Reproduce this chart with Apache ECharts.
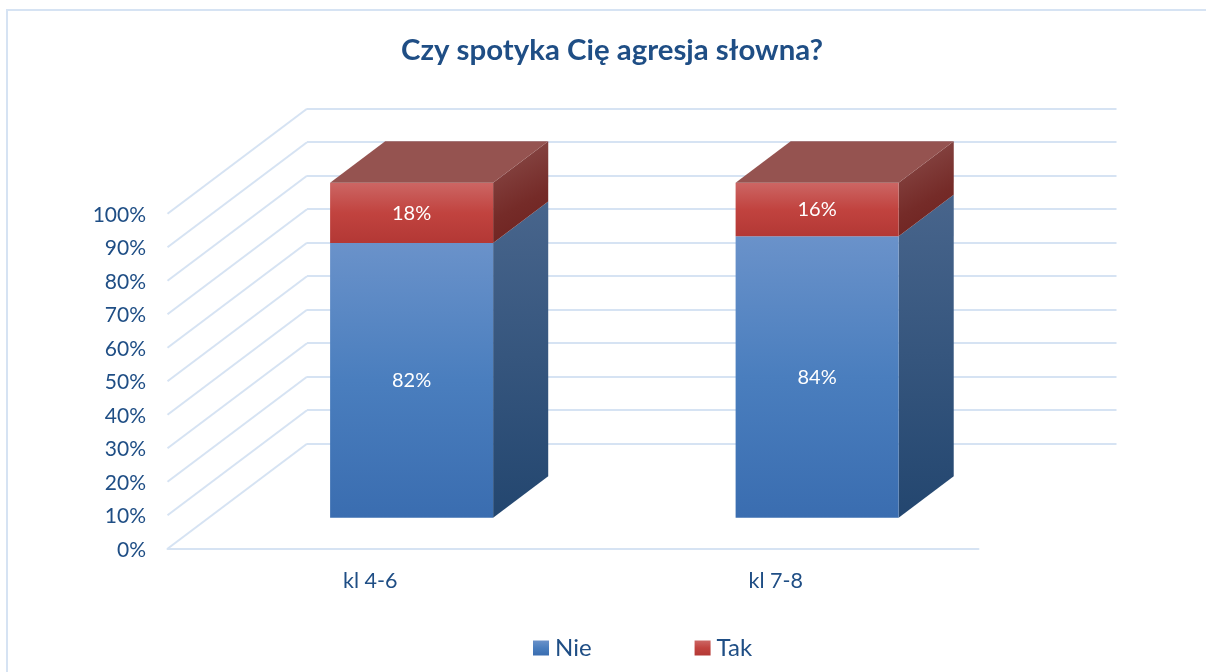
<!DOCTYPE html>
<html>
<head>
<meta charset="utf-8">
<script src="https://cdn.jsdelivr.net/npm/echarts@6/dist/echarts.min.js"></script>
<style>
  html, body { margin: 0; padding: 0; background: #fff; }
  #chart { width: 1206px; height: 672px; }
</style>
</head>
<body>
<div id="chart"></div>
<script>
const titleText = 'Czy spotyka Cię agresja słowna?'
const categories = ['kl 4-6', 'kl 7-8']
const nieValues = [82, 84]
const takValues = [18, 16]
const yTicks = [0, 10, 20, 30, 40, 50, 60, 70, 80, 90, 100]

const FONT = 'Lato'
const TEXT_COLOR = '#1f4e85'
const LINE_COLOR = '#d6e3f3'
// the "3d" look: how far the back wall sits from the front plane
const WALL_DX = 139.5
const WALL_DY = -105
// bar depth inside the wall, as a part of the wall depth
const BAR_NEAR = 0.295
const BAR_FAR = 0.69

const grad = (x2, y2, stops) => ({
  type: 'linear', x: 0, y: 0, x2: x2, y2: y2,
  colorStops: stops.map((s) => ({ offset: s[0], color: s[1] }))
})

const faces = {
  Nie: {
    front: grad(0, 1, [[0, '#6a92ca'], [0.5, '#4a7ebe'], [1, '#3a6db0']]),
    side: grad(0, 1, [[0, '#48658c'], [1, '#23466f']])
  },
  Tak: {
    front: grad(0, 1, [[0, '#cc6664'], [0.5, '#c1433f'], [1, '#b33835']]),
    side: grad(1, 1, [[0, '#8c4f4d'], [0.6, '#752b28'], [1, '#6c201e']]),
    top: '#955350'
  }
}

// draws one stacked block of a bar: front, side and (for the last one) the lid
function blockRenderer(name, showTop) {
  return function (params, api) {
    const cat = api.value(0)
    const from = api.coord([cat, api.value(1)])
    const to = api.coord([cat, api.value(2)])
    const band = api.size([1, 0])[0]
    const w = band * 0.402
    const ny = WALL_DY * BAR_NEAR
    const dx = WALL_DX * (BAR_FAR - BAR_NEAR)
    const dy = WALL_DY * (BAR_FAR - BAR_NEAR)
    const x0 = from[0] + band * 0.102 - w / 2
    const x1 = x0 + w
    const yb = from[1] + ny
    const yt = to[1] + ny
    const children = [
      {
        type: 'polygon',
        shape: { points: [[x1, yb], [x1 + dx, yb + dy], [x1 + dx, yt + dy], [x1, yt]] },
        style: { fill: faces[name].side }
      },
      {
        type: 'rect',
        shape: { x: x0, y: yt, width: w, height: yb - yt },
        style: { fill: faces[name].front }
      },
      {
        type: 'text',
        style: {
          text: api.value(3) + '%',
          x: x0 + w / 2,
          y: (yt + yb) / 2 + 0.5,
          align: 'center',
          verticalAlign: 'middle',
          fill: '#fff',
          font: '20px ' + FONT
        }
      }
    ]
    if (showTop) {
      children.push({
        type: 'polygon',
        shape: { points: [[x0, yt], [x1, yt], [x1 + dx, yt + dy], [x0 + dx, yt + dy]] },
        style: { fill: faces[name].top }
      })
    }
    return { type: 'group', children: children }
  }
}

const nieData = categories.map((c, i) => [i, 0, nieValues[i], nieValues[i]])
const takData = categories.map((c, i) => [i, nieValues[i], nieValues[i] + takValues[i], takValues[i]])

const chart = echarts.init(document.getElementById('chart'))
chart.setOption({
  animation: false,
  backgroundColor: '#fff',
  textStyle: { fontFamily: FONT },
  title: {
    text: titleText,
    left: 607,
    top: 31,
    textAlign: 'center',
    textStyle: { fontFamily: FONT, fontSize: 29.4, fontWeight: 'bold', color: TEXT_COLOR }
  },
  legend: {
    left: 528,
    top: 631,
    icon: 'rect',
    itemWidth: 16,
    itemHeight: 15,
    itemGap: 103,
    selectedMode: false,
    textStyle: { fontFamily: FONT, fontSize: 24, color: TEXT_COLOR, padding: [0, 0, 0, 1] },
    data: [
      { name: 'Nie', itemStyle: { color: faces.Nie.front } },
      { name: 'Tak', itemStyle: { color: faces.Tak.front } }
    ]
  },
  graphic: [{
    // chart frame, runs off the page on the right and at the bottom
    type: 'rect',
    silent: true,
    z: -1,
    shape: { x: 7, y: 10, width: 1400, height: 900 },
    style: { fill: 'none', stroke: LINE_COLOR, lineWidth: 2 }
  }],
  grid: [
    { left: 167.5, top: 213.7, width: 811, height: 335 },
    { left: 307, top: 108.7, width: 809.5, height: 335 }
  ],
  xAxis: [
    {
      type: 'category',
      gridIndex: 0,
      data: categories,
      axisTick: { show: false },
      axisLine: { lineStyle: { color: LINE_COLOR, width: 2 } },
      axisLabel: { fontFamily: FONT, fontSize: 21.5, color: TEXT_COLOR, margin: 21 }
    },
    { type: 'category', gridIndex: 1, data: categories, show: false }
  ],
  yAxis: [
    {
      type: 'value',
      gridIndex: 0,
      min: 0,
      max: 100,
      interval: 10,
      axisLine: { show: false },
      axisTick: { show: false },
      splitLine: { show: false },
      // small top-aligned line box nudges the labels down onto the ticks
      axisLabel: { fontFamily: FONT, fontSize: 21, color: TEXT_COLOR, margin: 21.5, verticalAlign: 'top', lineHeight: 3, formatter: '{value}%' }
    },
    {
      // back wall gridlines
      type: 'value',
      gridIndex: 1,
      min: 0,
      max: 100,
      interval: 10,
      axisLine: { show: false },
      axisTick: { show: false },
      axisLabel: { show: false },
      splitLine: { lineStyle: { color: LINE_COLOR, width: 2 } }
    }
  ],
  series: [
    {
      // left wall gridlines
      type: 'custom',
      name: 'wall',
      silent: true,
      xAxisIndex: 0,
      yAxisIndex: 0,
      data: yTicks.map((v) => [0, v]),
      encode: { x: 0, y: 1 },
      z: 1,
      renderItem: function (params, api) {
        const p = api.coord([0, api.value(1)])
        const x = params.coordSys.x
        return {
          type: 'line',
          shape: { x1: x, y1: p[1], x2: x + WALL_DX, y2: p[1] + WALL_DY },
          style: { stroke: LINE_COLOR, lineWidth: 2 }
        }
      }
    },
    {
      type: 'custom',
      name: 'Nie',
      xAxisIndex: 0,
      yAxisIndex: 0,
      data: nieData,
      encode: { x: 0, y: [1, 2] },
      itemStyle: { color: faces.Nie.front },
      z: 3,
      renderItem: blockRenderer('Nie', false)
    },
    {
      type: 'custom',
      name: 'Tak',
      xAxisIndex: 0,
      yAxisIndex: 0,
      data: takData,
      encode: { x: 0, y: [1, 2] },
      itemStyle: { color: faces.Tak.front },
      z: 4,
      renderItem: blockRenderer('Tak', true)
    }
  ]
})
</script>
</body>
</html>
